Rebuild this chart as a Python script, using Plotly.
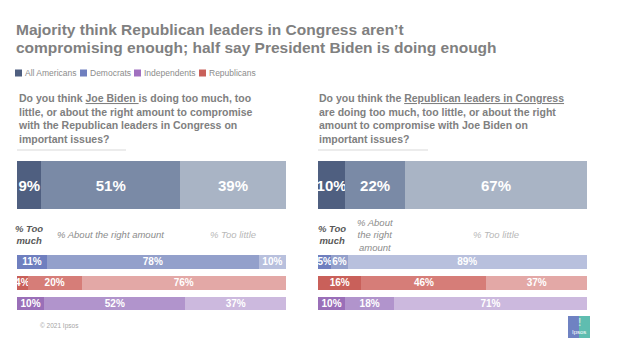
import plotly.graph_objects as go

# ---------------- data ----------------
segments = ["% Too much", "% About the right amount", "% Too little"]
segment_labels_left = ["% Too<br>much", "% About the right amount", "% Too little"]
segment_labels_right = ["% Too<br>much", "% About<br>the right<br>amount", "% Too little"]
groups = ["Democrats", "Republicans", "Independents"]
legend_names = ["All Americans", "Democrats", "Independents", "Republicans"]

left_all = [9, 51, 39]
left_dem = [11, 78, 10]
left_rep = [4, 20, 76]
left_ind = [10, 52, 37]

right_all = [10, 22, 67]
right_dem = [5, 6, 89]
right_rep = [16, 46, 37]
right_ind = [10, 18, 71]

title_lines = ["Majority think Republican leaders in Congress aren’t",
               "compromising enough; half say President Biden is doing enough"]
q_left = ("Do you think <u>Joe Biden </u>is doing too much, too<br>"
          "little, or about the right amount to compromise<br>"
          "with the Republican leaders in Congress on<br>"
          "important issues?")
q_right = ("Do you think the <u>Republican leaders in Congress</u><br>"
           "are doing too much, too little, or about the right<br>"
           "amount to compromise with Joe Biden on<br>"
           "important issues?")

# ---------------- styles ----------------
W, H = 630, 355
FONT = "Liberation Sans, Arial, sans-serif"
GREY = "#7f7f7f"
shades = {
    "All Americans": ["#4f5f80", "#7a8aa6", "#a9b4c5"],
    "Democrats": ["#6f7fbf", "#93a0cb", "#b8c0dd"],
    "Republicans": ["#c9605a", "#d67d78", "#e3a8a6"],
    "Independents": ["#9a6fb8", "#b194cc", "#ccb9de"],
}
legend_colors = {"All Americans": "#4f5f80", "Democrats": "#6f7fbf",
                 "Independents": "#a070c0", "Republicans": "#c9605a"}
label_colors = ["#595959", "#8c8c8c", "#b8b8b8"]
label_styles = [("<b><i>", "</i></b>"), ("<i>", "</i>"), ("<i>", "</i>")]
XR = [-0.001, 100.001]


def px(x):
    return x / W


def py(y):
    return 1 - y / H


fig = go.Figure()

panels = [
    dict(all=left_all, rows=[left_dem, left_rep, left_ind], xm="x", ym="y", xs="x2", ys="y2",
         labels=segment_labels_left, xdom=[px(17), px(286)]),
    dict(all=right_all, rows=[right_dem, right_rep, right_ind], xm="x3", ym="y3", xs="x4", ys="y4",
         labels=segment_labels_right, xdom=[px(318), px(587)]),
]

for p in panels:
    # main bar (All Americans)
    for i, seg in enumerate(segments):
        fig.add_trace(go.Bar(
            x=[p["all"][i]], y=["All Americans"], orientation="h",
            xaxis=p["xm"], yaxis=p["ym"], width=1, cliponaxis=False,
            marker=dict(color=shades["All Americans"][i], line=dict(width=0)),
            text=[f"{p['all'][i]}%"], textposition="inside", insidetextanchor="middle",
            constraintext="none", textangle=0,
            textfont=dict(family=FONT, size=15, color="white", weight="bold"),
            showlegend=False, name=seg, hoverinfo="skip"))
    # group bars
    for i, seg in enumerate(segments):
        vals = [r[i] for r in p["rows"]]
        fig.add_trace(go.Bar(
            x=vals, y=groups, orientation="h",
            xaxis=p["xs"], yaxis=p["ys"], width=0.65, cliponaxis=False,
            marker=dict(color=[shades[g][i] for g in groups], line=dict(width=0)),
            text=[f"{v}%" for v in vals], textposition="inside", insidetextanchor="middle",
            constraintext="none", textangle=0,
            textfont=dict(family=FONT, size=10, color="white", weight="bold"),
            showlegend=False, name=seg, hoverinfo="skip"))

ax_common = dict(showgrid=False, zeroline=False, showticklabels=False, showline=False, ticks="", fixedrange=True)
fig.update_layout(
    width=W, height=H, margin=dict(l=0, r=0, t=0, b=0),
    paper_bgcolor="white", plot_bgcolor="white",
    barmode="stack", barnorm="percent",
    xaxis=dict(domain=panels[0]["xdom"], range=XR, anchor="y", **ax_common),
    yaxis=dict(domain=[py(209), py(161)], range=[-0.5, 0.5], anchor="x", **ax_common),
    xaxis2=dict(domain=panels[0]["xdom"], range=XR, anchor="y2", **ax_common),
    yaxis2=dict(domain=[py(313.9), py(251.6)], range=[2.5, -0.5], anchor="x2", **ax_common),
    xaxis3=dict(domain=panels[1]["xdom"], range=XR, anchor="y3", **ax_common),
    yaxis3=dict(domain=[py(209), py(161)], range=[-0.5, 0.5], anchor="x3", **ax_common),
    xaxis4=dict(domain=panels[1]["xdom"], range=XR, anchor="y4", **ax_common),
    yaxis4=dict(domain=[py(313.9), py(251.6)], range=[2.5, -0.5], anchor="x4", **ax_common),
    showlegend=False,
    font=dict(family=FONT, color=GREY),
)

ann = []
shapes = []
# title
for line, yc in zip(title_lines, [29, 47]):
    ann.append(dict(text=f"<b>{line}</b>", x=px(14), y=py(yc), xref="paper", yref="paper",
                    xanchor="left", yanchor="middle", showarrow=False,
                    font=dict(family=FONT, size=15.5, color="#808080")))
# legend: squares + names
leg_x = [15, 80, 134, 199]
for name, lx in zip(legend_names, leg_x):
    shapes.append(dict(type="rect", xref="paper", yref="paper", x0=px(lx), x1=px(lx + 7),
                       y0=py(76.5), y1=py(69.5), fillcolor=legend_colors[name], line=dict(width=0)))
    ann.append(dict(text=name, x=px(lx + 8), y=py(73), xref="paper", yref="paper",
                    xanchor="left", yanchor="middle", showarrow=False,
                    font=dict(family=FONT, size=8.5, color="#8c8c8c")))
# questions
for q, qx in [(q_left, 17), (q_right, 318)]:
    ann.append(dict(text=f"<b>{q}</b>", x=px(qx - 1), y=py(90), xref="paper", yref="paper",
                    xanchor="left", yanchor="top", align="left", showarrow=False,
                    font=dict(family=FONT, size=10.5, color="#808080")))
# segment labels at segment centres
for p in panels:
    tot = sum(p["all"])
    cum = 0
    for i, v in enumerate(p["all"]):
        centre = (cum + v / 2) / tot * 100
        cum += v
        o, c = label_styles[i]
        ann.append(dict(text=f"{o}{p['labels'][i]}{c}", x=centre, y=py(234.5),
                        xref=p["xm"], yref="paper", xanchor="center", yanchor="middle",
                        showarrow=False, align="center",
                        font=dict(family=FONT, size=9.5, color=label_colors[i])))
# footer
ann.append(dict(text="© 2021 Ipsos", x=px(38), y=py(326), xref="paper", yref="paper",
                xanchor="left", yanchor="middle", showarrow=False,
                font=dict(family=FONT, size=6.5, color="#a6a6a6")))
ann.append(dict(text="Ipsos", x=px(579), y=py(332), xref="paper", yref="paper",
                xanchor="center", yanchor="middle", showarrow=False,
                font=dict(family=FONT, size=6, color="white")))
ann.append(dict(text="<b>!</b>", x=px(579), y=py(322), xref="paper", yref="paper",
                xanchor="center", yanchor="middle", showarrow=False,
                font=dict(family=FONT, size=10, color="rgba(255,255,255,0.6)")))
fig.update_layout(annotations=ann)

shapes += [
    dict(type="line", xref="paper", yref="paper", x0=px(17), x1=px(126), y0=py(150), y1=py(150),
         line=dict(color="#d9d9d9", width=1)),
    dict(type="line", xref="paper", yref="paper", x0=px(318), x1=px(428), y0=py(150), y1=py(150),
         line=dict(color="#d9d9d9", width=1)),
    dict(type="rect", xref="paper", yref="paper", x0=px(568), x1=px(579), y0=py(338), y1=py(316),
         fillcolor="#6f82c2", line=dict(width=0), layer="below"),
    dict(type="rect", xref="paper", yref="paper", x0=px(579), x1=px(590), y0=py(338), y1=py(316),
         fillcolor="#5fbdb0", line=dict(width=0), layer="below"),
]
fig.update_layout(shapes=shapes)

fig.write_html("out.html", config={"displayModeBar": False},
               post_script="document.body.style.margin='0px';")
